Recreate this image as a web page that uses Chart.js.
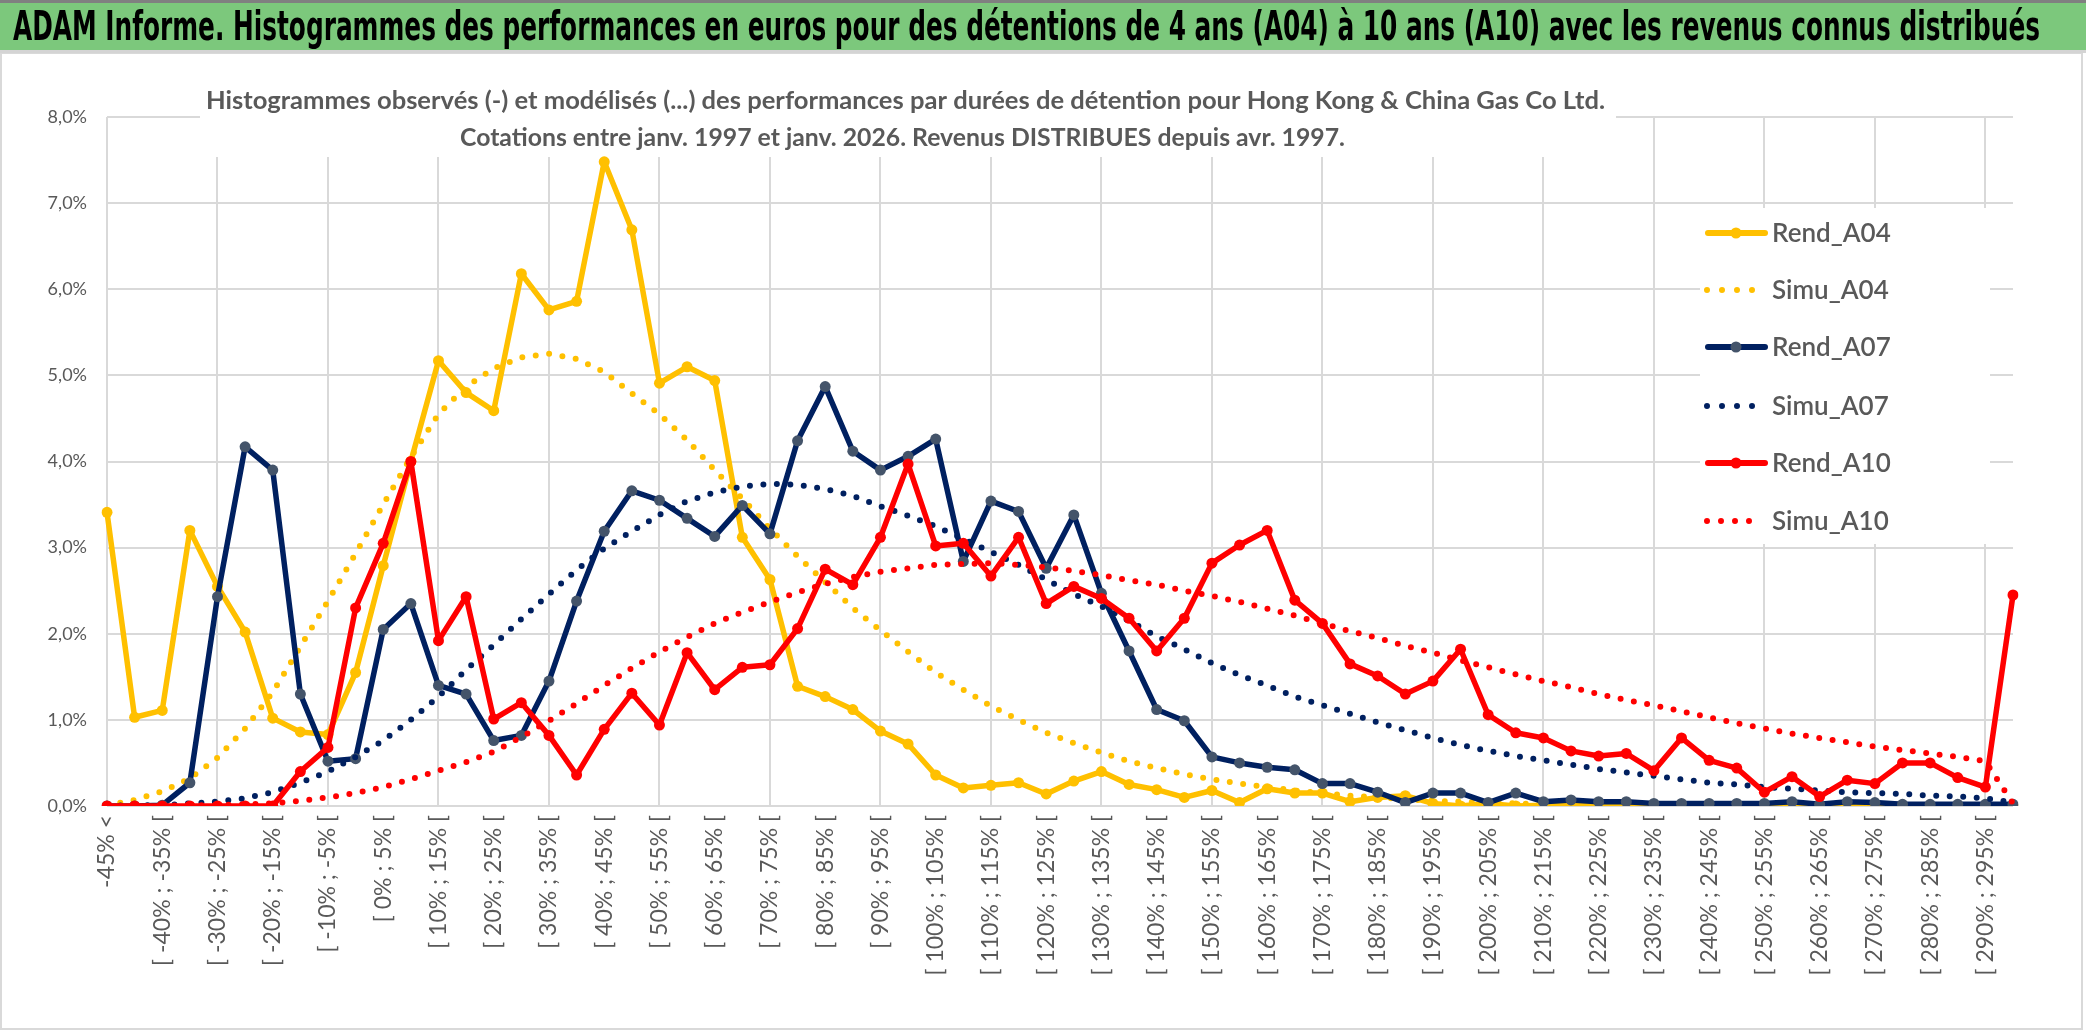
<!DOCTYPE html>
<html>
<head>
<meta charset="utf-8">
<script src="https://cdn.jsdelivr.net/npm/chart.js@4.4.1/dist/chart.umd.min.js"></script>
<style>
  html, body { margin: 0; padding: 0; background: #fff; overflow: hidden; }
  canvas { display: block; }
</style>
</head>
<body>
<canvas id="histoChart" width="2086" height="1031"></canvas>
<script>
/**
 * ADAM Informe - histogrammes des performances (A04 / A07 / A10)
 */

const bannerTitle = 'ADAM Informe. Histogrammes des performances en euros pour des détentions de 4 ans (A04) à 10 ans (A10) avec les revenus connus distribués';
const chartTitle = [
  'Histogrammes observés (-) et modélisés (...) des performances par durées de détention pour Hong Kong & China Gas Co Ltd.',
  'Cotations entre janv. 1997 et janv. 2026. Revenus DISTRIBUES depuis avr. 1997.'
];

const categories = [
  '-45% <', '[ -45% ; -40% [', '[ -40% ; -35% [', '[ -35% ; -30% [', '[ -30% ; -25% [',
  '[ -25% ; -20% [', '[ -20% ; -15% [', '[ -15% ; -10% [', '[ -10% ; -5% [', '[ -5% ; 0% [',
  '[ 0% ; 5% [', '[ 5% ; 10% [', '[ 10% ; 15% [', '[ 15% ; 20% [', '[ 20% ; 25% [',
  '[ 25% ; 30% [', '[ 30% ; 35% [', '[ 35% ; 40% [', '[ 40% ; 45% [', '[ 45% ; 50% [',
  '[ 50% ; 55% [', '[ 55% ; 60% [', '[ 60% ; 65% [', '[ 65% ; 70% [', '[ 70% ; 75% [',
  '[ 75% ; 80% [', '[ 80% ; 85% [', '[ 85% ; 90% [', '[ 90% ; 95% [', '[ 95% ; 100% [',
  '[ 100% ; 105% [', '[ 105% ; 110% [', '[ 110% ; 115% [', '[ 115% ; 120% [', '[ 120% ; 125% [',
  '[ 125% ; 130% [', '[ 130% ; 135% [', '[ 135% ; 140% [', '[ 140% ; 145% [', '[ 145% ; 150% [',
  '[ 150% ; 155% [', '[ 155% ; 160% [', '[ 160% ; 165% [', '[ 165% ; 170% [', '[ 170% ; 175% [',
  '[ 175% ; 180% [', '[ 180% ; 185% [', '[ 185% ; 190% [', '[ 190% ; 195% [', '[ 195% ; 200% [',
  '[ 200% ; 205% [', '[ 205% ; 210% [', '[ 210% ; 215% [', '[ 215% ; 220% [', '[ 220% ; 225% [',
  '[ 225% ; 230% [', '[ 230% ; 235% [', '[ 235% ; 240% [', '[ 240% ; 245% [', '[ 245% ; 250% [',
  '[ 250% ; 255% [', '[ 255% ; 260% [', '[ 260% ; 265% [', '[ 265% ; 270% [', '[ 270% ; 275% [',
  '[ 275% ; 280% [', '[ 280% ; 285% [', '[ 285% ; 290% [', '[ 290% ; 295% [', '[ 295% ; 300% ['
];

// values in %
const rendA04 = [
  3.41, 1.03, 1.11, 3.20, 2.55, 2.02, 1.02, 0.86, 0.83, 1.55,
  2.79, 4.00, 5.17, 4.80, 4.59, 6.18, 5.76, 5.86, 7.48, 6.69,
  4.91, 5.10, 4.94, 3.12, 2.63, 1.39, 1.27, 1.12, 0.87, 0.72,
  0.36, 0.21, 0.24, 0.27, 0.14, 0.29, 0.40, 0.25, 0.19, 0.10,
  0.18, 0.04, 0.20, 0.15, 0.15, 0.05, 0.10, 0.12, 0.03, 0.00,
  0.03, 0.00, 0.01, 0.02, 0.00, 0.00, 0.00, 0.00, 0.00, 0.00,
  0.00, 0.00, 0.00, 0.00, 0.00, 0.00, 0.00, 0.00, 0.00, 0.00
];
const simuA04 = [
  0.01, 0.07, 0.17, 0.32, 0.56, 0.90, 1.32, 1.85, 2.38, 2.93,
  3.50, 4.05, 4.55, 4.87, 5.08, 5.21, 5.25, 5.19, 5.04, 4.79,
  4.55, 4.25, 3.90, 3.57, 3.22, 2.90, 2.60, 2.30, 2.04, 1.79,
  1.55, 1.35, 1.16, 1.00, 0.85, 0.73, 0.62, 0.52, 0.44, 0.37,
  0.31, 0.26, 0.22, 0.18, 0.15, 0.12, 0.10, 0.08, 0.06, 0.05,
  0.04, 0.03, 0.02, 0.02, 0.01, 0.01, 0.01, 0.00, 0.00, 0.00,
  0.00, 0.00, 0.00, 0.00, 0.00, 0.00, 0.00, 0.00, 0.00, 0.00
];
const rendA07 = [
  0.00, 0.00, 0.01, 0.27, 2.43, 4.17, 3.90, 1.30, 0.52, 0.55,
  2.05, 2.35, 1.40, 1.30, 0.76, 0.82, 1.45, 2.38, 3.19, 3.66,
  3.55, 3.34, 3.13, 3.49, 3.16, 4.24, 4.87, 4.12, 3.90, 4.06,
  4.26, 2.84, 3.54, 3.42, 2.76, 3.38, 2.47, 1.80, 1.12, 0.99,
  0.57, 0.50, 0.45, 0.42, 0.26, 0.26, 0.16, 0.04, 0.15, 0.15,
  0.04, 0.15, 0.05, 0.07, 0.05, 0.05, 0.03, 0.03, 0.03, 0.03,
  0.03, 0.05, 0.02, 0.05, 0.04, 0.02, 0.02, 0.02, 0.02, 0.02
];
const simuA07 = [
  0.00, 0.01, 0.01, 0.03, 0.05, 0.09, 0.16, 0.27, 0.40, 0.57,
  0.76, 1.00, 1.27, 1.58, 1.87, 2.17, 2.46, 2.74, 2.99, 3.19,
  3.38, 3.54, 3.64, 3.71, 3.74, 3.73, 3.68, 3.60, 3.48, 3.37,
  3.25, 3.10, 2.95, 2.80, 2.63, 2.46, 2.32, 2.15, 1.97, 1.82,
  1.66, 1.52, 1.40, 1.27, 1.17, 1.07, 0.97, 0.88, 0.79, 0.71,
  0.64, 0.58, 0.53, 0.48, 0.43, 0.39, 0.35, 0.31, 0.27, 0.25,
  0.22, 0.20, 0.18, 0.16, 0.15, 0.14, 0.12, 0.11, 0.09, 0.04
];
const rendA10 = [
  0.00, 0.00, 0.00, 0.00, 0.00, 0.00, 0.00, 0.40, 0.68, 2.30,
  3.05, 4.00, 1.92, 2.43, 1.01, 1.20, 0.82, 0.36, 0.89, 1.31,
  0.94, 1.78, 1.35, 1.61, 1.64, 2.06, 2.75, 2.57, 3.12, 3.97,
  3.02, 3.05, 2.67, 3.12, 2.35, 2.55, 2.41, 2.18, 1.80, 2.18,
  2.82, 3.03, 3.20, 2.39, 2.12, 1.65, 1.51, 1.30, 1.45, 1.82,
  1.06, 0.85, 0.79, 0.64, 0.58, 0.61, 0.41, 0.79, 0.53, 0.44,
  0.16, 0.34, 0.11, 0.30, 0.26, 0.50, 0.50, 0.33, 0.22, 2.45
];
const simuA10 = [
  0.00, 0.00, 0.00, 0.01, 0.01, 0.02, 0.03, 0.06, 0.10, 0.15,
  0.22, 0.31, 0.41, 0.51, 0.63, 0.80, 0.99, 1.19, 1.40, 1.60,
  1.79, 1.96, 2.12, 2.25, 2.37, 2.48, 2.58, 2.66, 2.72, 2.76,
  2.80, 2.81, 2.82, 2.80, 2.77, 2.73, 2.68, 2.62, 2.57, 2.50,
  2.44, 2.37, 2.29, 2.21, 2.12, 2.03, 1.95, 1.86, 1.78, 1.69,
  1.61, 1.53, 1.45, 1.38, 1.30, 1.23, 1.17, 1.10, 1.03, 0.96,
  0.90, 0.84, 0.79, 0.74, 0.69, 0.65, 0.61, 0.57, 0.52, 0.03
];

const YELLOW = '#ffc000';
const NAVY = '#002060';
const NAVY_MARK = '#44546a';
const RED = '#ff0000';
const GREY_TEXT = '#595959';
const GRID = '#d9d9d9';
const FONT = 'Lato, "Open Sans", sans-serif';

function rendDataset(label, data, color, markColor, order) {
  return {
    label, data, order,
    borderColor: color,
    backgroundColor: color,
    borderWidth: 5.5,
    borderJoinStyle: 'round',
    borderCapStyle: 'round',
    pointRadius: 5.5,
    pointBorderWidth: 0,
    pointBackgroundColor: markColor,
    pointBorderColor: markColor,
    tension: 0
  };
}

function simuDataset(label, data, color, order) {
  return {
    label, data, order,
    borderColor: color,
    backgroundColor: color,
    borderWidth: 6,
    borderDash: [0, 13.5],
    borderCapStyle: 'round',
    pointRadius: 0,
    tension: 0
  };
}

// draws text squeezed/stretched to a given width
function fitText(ctx, text, x, y, width, font, color) {
  ctx.save();
  ctx.font = font;
  ctx.fillStyle = color;
  ctx.textAlign = 'left';
  ctx.textBaseline = 'alphabetic';
  const w = ctx.measureText(text).width;
  ctx.translate(x, y);
  ctx.scale(width / w, 1);
  ctx.fillText(text, 0, 0);
  ctx.restore();
}

const decorPlugin = {
  id: 'decor',
  beforeDraw(chart) {
    const ctx = chart.ctx;
    ctx.save();
    ctx.fillStyle = '#fff';
    ctx.fillRect(0, 0, chart.width, chart.height);
    // frame of the chart
    ctx.strokeStyle = GRID;
    ctx.lineWidth = 2;
    ctx.strokeRect(1, 53, 2081, 976);
    // green banner
    ctx.fillStyle = '#7cc87c';
    ctx.fillRect(0, 0, chart.width, 50);
    ctx.fillStyle = '#808080';
    ctx.fillRect(0, 0, chart.width, 3);
    ctx.fillStyle = '#d4d4d4';
    ctx.fillRect(0, 50, chart.width, 3);
    ctx.restore();
    fitText(ctx, bannerTitle, 13, 40, 2027, 'bold 40px "Liberation Sans Narrow", "DejaVu Sans Condensed", sans-serif', '#000');
  },
  beforeDatasetsDraw(chart) {
    const ctx = chart.ctx;
    ctx.save();
    ctx.fillStyle = '#fff';
    ctx.fillRect(200, 78, 1416, 79);
    ctx.restore();
    fitText(ctx, chartTitle[0], 206, 109, 1399, 'bold 25px ' + FONT, GREY_TEXT);
    fitText(ctx, chartTitle[1], 460, 146, 885, 'bold 25px ' + FONT, GREY_TEXT);
  },
  afterDraw(chart) {
    const ctx = chart.ctx;
    const rows = [233, 290, 347, 406, 463, 521];
    ctx.save();
    ctx.fillStyle = '#fff';
    ctx.fillRect(1700, 208, 290, 336);
    chart.data.datasets.forEach((ds, i) => {
      const y = rows[i];
      ctx.strokeStyle = ds.borderColor;
      ctx.lineWidth = 6;
      ctx.lineCap = 'round';
      ctx.beginPath();
      if (ds.borderDash) {
        const last = i === 5 ? 1762 : 1752;
        ctx.setLineDash([0, i === 5 ? 14 : 15]);
        ctx.moveTo(1707, y);
        ctx.lineTo(last + 0.5, y);
        ctx.stroke();
        ctx.setLineDash([]);
      } else {
        ctx.moveTo(1708, y);
        ctx.lineTo(1765, y);
        ctx.stroke();
        ctx.fillStyle = ds.pointBackgroundColor;
        ctx.beginPath();
        ctx.arc(1736, y, 5.5, 0, Math.PI * 2);
        ctx.fill();
      }
      ctx.fillStyle = GREY_TEXT;
      ctx.font = '600 26px ' + FONT;
      ctx.textBaseline = 'middle';
      ctx.fillText(ds.label, 1772, y + 1);
    });
    ctx.restore();
  }
};

const el = document.getElementById('histoChart');
window.histoChartInstance = new Chart(el.getContext('2d'), {
  type: 'line',
  data: {
    labels: categories,
    datasets: [
      rendDataset('Rend_A04', rendA04, YELLOW, YELLOW, 6),
      simuDataset('Simu_A04', simuA04, YELLOW, 5),
      rendDataset('Rend_A07', rendA07, NAVY, NAVY_MARK, 4),
      simuDataset('Simu_A07', simuA07, NAVY, 3),
      rendDataset('Rend_A10', rendA10, RED, RED, 2),
      simuDataset('Simu_A10', simuA10, RED, 1)
    ]
  },
  options: {
    responsive: false,
    animation: false,
    devicePixelRatio: 1,
    layout: { padding: { left: 47, right: 73, top: 117, bottom: 25 } },
    plugins: {
      legend: { display: false },
      title: { display: false },
      tooltip: { enabled: false }
    },
    scales: {
      x: {
        grid: {
          color: (c) => (c.index % 4 === 0 ? GRID : 'rgba(0,0,0,0)'),
          lineWidth: 2,
          drawTicks: false
        },
        border: { display: false },
        ticks: {
          autoSkip: false,
          minRotation: 90,
          maxRotation: 90,
          padding: 9,
          color: GREY_TEXT,
          font: { family: FONT, size: 23 },
          callback: (v, i) => (i % 2 === 0 ? categories[i] : '')
        },
        afterFit: (s) => { s.height = 200; }
      },
      y: {
        min: 0,
        max: 8,
        grid: { color: GRID, lineWidth: 2, drawTicks: false },
        border: { display: false },
        ticks: {
          stepSize: 1,
          padding: 20,
          color: GREY_TEXT,
          font: { family: FONT, size: 18 },
          callback: (v) => v.toFixed(1).replace('.', ',') + '%'
        },
        afterFit: (s) => { s.width = 60; }
      }
    }
  },
  plugins: [decorPlugin]
});
</script>
</body>
</html>
